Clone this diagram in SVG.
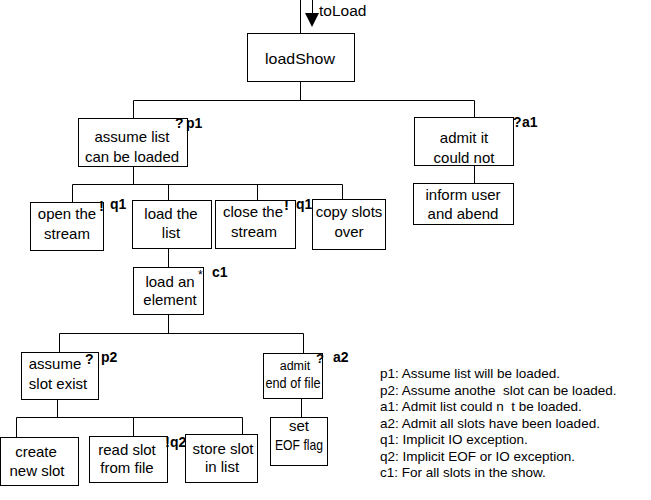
<svg xmlns="http://www.w3.org/2000/svg" width="651" height="500" viewBox="0 0 651 500">
<style>
.b{fill:#fff;stroke:#000;stroke-width:1}
.c{stroke:#000;stroke-width:1;fill:none}
.t{font-family:"Liberation Sans",Arial,sans-serif;font-size:15px;text-anchor:middle;fill:#000}
.a{font-family:"Liberation Sans",Arial,sans-serif;font-size:14px;font-weight:bold;fill:#000}
.l{font-family:"Liberation Sans",Arial,sans-serif;font-size:13.5px;fill:#000;white-space:pre}
</style>
<rect width="651" height="500" fill="#fff"/>
<g id="connectors">
<path class="c" d="M300.5 0V33.5M312.5 0V14"/>
<polygon points="305,13 319,13 312,27" fill="#000"/>
<path class="c" d="M300.5 81.5V100.5M133.5 100.5H474.5M133.5 100.5V118.5M474.5 100.5V117.5"/>
<path class="c" d="M474.5 165.5V183.5"/>
<path class="c" d="M133.5 166.5V184.5M72.5 184.5H342.5M72.5 184.5V202.5M168.5 184.5V200.5M257.5 184.5V200.5M342.5 184.5V199.5"/>
<path class="c" d="M168.5 248.5V267.5M168.5 314.5V333.5M59.5 333.5H303.5M59.5 333.5V352.5M303.5 333.5V353.5"/>
<path class="c" d="M57.5 399.5V417.5M16.5 417.5H242.5M16.5 417.5V437.5M133.5 417.5V436.5M242.5 417.5V434.5"/>
<path class="c" d="M301.5 398.5V417.5"/>
<text class="t" x="319" y="16" style="text-anchor:start;font-size:15.5px">toLoad</text>
</g>
<g id="loadShow"><rect class="b" x="247.5" y="33.5" width="107" height="48"/><text class="t" x="300" y="64" textLength="70" lengthAdjust="spacingAndGlyphs">loadShow</text></g>
<g id="p1"><rect class="b" x="78.5" y="118.5" width="109" height="48"/><text class="t" x="132" y="142">assume list</text><text class="t" x="132" y="162">can be loaded</text><text class="a" x="175" y="128">?</text><text class="a" x="186" y="128">p1</text></g>
<g id="a1"><rect class="b" x="414.5" y="117.5" width="99" height="48"/><text class="t" x="464" y="143">admit it</text><text class="t" x="464" y="163">could not</text><text class="a" x="513" y="127">?</text><text class="a" x="522" y="127">a1</text></g>
<g id="inform"><rect class="b" x="413.5" y="183.5" width="100" height="41"/><text class="t" x="463" y="200">inform user</text><text class="t" x="463" y="219">and abend</text></g>
<g id="open"><rect class="b" x="30.5" y="202.5" width="73" height="48"/><text class="t" x="67" y="219">open the</text><text class="t" x="67" y="239">stream</text><text class="a" x="99" y="211" style="font-size:15px">!</text><text class="a" x="110" y="209">q1</text></g>
<g id="loadList"><rect class="b" x="132.5" y="200.5" width="79" height="48"/><text class="t" x="171" y="219">load the</text><text class="t" x="171" y="238">list</text></g>
<g id="close"><rect class="b" x="215.5" y="200.5" width="80" height="48"/><text class="t" x="253" y="217">close the</text><text class="t" x="254" y="237">stream</text><text class="a" x="284" y="210" style="font-size:15px">!</text><text class="a" x="296" y="209">q1</text></g>
<g id="copy"><rect class="b" x="312.5" y="199.5" width="73" height="50"/><text class="t" x="349" y="217">copy slots</text><text class="t" x="349" y="237">over</text></g>
<g id="c1"><rect class="b" x="133.5" y="267.5" width="70" height="47"/><text class="t" x="170" y="287">load an</text><text class="t" x="170" y="305">element</text><text class="t" x="198" y="279" style="text-anchor:start;font-size:12px">*</text><text class="a" x="212" y="277">c1</text></g>
<g id="p2"><rect class="b" x="21.5" y="352.5" width="77" height="47"/><text class="t" x="55" y="369">assume</text><text class="t" x="58" y="389">slot exist</text><text class="a" x="85" y="364">?</text><text class="a" x="101" y="362">p2</text></g>
<g id="a2"><rect class="b" x="263.5" y="353.5" width="59" height="45"/><text class="t" x="295" y="370" style="font-size:12.5px">admit</text><text class="t" x="293" y="388" textLength="55" lengthAdjust="spacingAndGlyphs">end of file</text><text class="a" x="316" y="363" style="font-size:13px">?</text><text class="a" x="333" y="362">a2</text></g>
<g id="create"><rect class="b" x="0.5" y="437.5" width="78" height="48"/><text class="t" x="36" y="457">create</text><text class="t" x="37" y="476">new slot</text></g>
<g id="read"><rect class="b" x="89.5" y="436.5" width="78" height="46"/><text class="t" x="127" y="455">read slot</text><text class="t" x="127" y="473">from file</text><text class="a" x="165" y="447" style="font-size:15px">!</text><text class="a" x="170" y="447">q2</text></g>
<g id="store"><rect class="b" x="185.5" y="434.5" width="72" height="48"/><text class="t" x="223" y="454">store slot</text><text class="t" x="222" y="472">in list</text></g>
<g id="set"><rect class="b" x="270.5" y="417.5" width="57" height="48"/><text class="t" x="299" y="431">set</text><text class="t" x="299" y="450" textLength="48" lengthAdjust="spacingAndGlyphs">EOF flag</text></g>
<g id="legend">
<text class="l" x="380" y="378">p1: Assume list will be loaded.</text>
<text class="l" x="380" y="395">p2: Assume anothe  slot can be loaded.</text>
<text class="l" x="380" y="411">a1: Admit list could n  t be loaded.</text>
<text class="l" x="380" y="428">a2: Admit all slots have been loaded.</text>
<text class="l" x="380" y="444">q1: Implicit IO exception.</text>
<text class="l" x="380" y="461">q2: Implicit EOF or IO exception.</text>
<text class="l" x="380" y="477">c1: For all slots in the show.</text>
</g>
</svg>
